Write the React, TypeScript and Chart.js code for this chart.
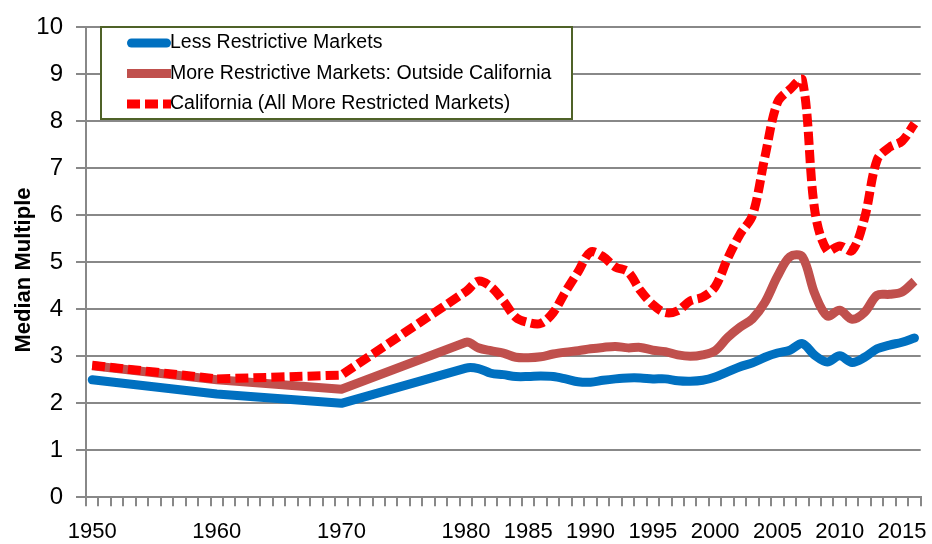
import React, { useEffect, useRef } from 'react';
import { Chart, registerables } from 'chart.js';

Chart.register(...registerables);

// ---- Data ----
const years = [
  1950, 1960, 1970, 1980, 1981, 1982, 1983, 1984, 1985, 1986, 1987, 1988, 1989,
  1990, 1991, 1992, 1993, 1994, 1995, 1996, 1997, 1998, 1999, 2000, 2001, 2002,
  2003, 2004, 2005, 2006, 2007, 2008, 2009, 2010, 2011, 2012, 2013, 2014, 2015, 2016,
];

const lessRestrictive = [
  2.5, 2.2, 2.0, 2.75, 2.74, 2.64, 2.61, 2.57, 2.57, 2.58, 2.57, 2.52, 2.46,
  2.45, 2.49, 2.52, 2.54, 2.54, 2.52, 2.52, 2.48, 2.47, 2.49, 2.56, 2.67, 2.78,
  2.86, 2.98, 3.07, 3.13, 3.27, 3.02, 2.88, 3.01, 2.87, 2.98, 3.16, 3.24, 3.3, 3.39,
];

const moreRestrictiveOutsideCA = [
  2.8, 2.5, 2.3, 3.3, 3.18, 3.12, 3.07, 2.98, 2.97, 2.99, 3.05, 3.09, 3.12,
  3.16, 3.19, 3.21, 3.18, 3.19, 3.13, 3.1, 3.03, 3.0, 3.03, 3.12, 3.4, 3.62,
  3.8, 4.15, 4.7, 5.12, 5.12, 4.33, 3.86, 3.98, 3.79, 3.94, 4.3, 4.32, 4.37, 4.6,
];

const california = [
  2.81, 2.52, 2.6, 4.38, 4.6, 4.48, 4.18, 3.83, 3.72, 3.7, 3.93, 4.38, 4.8,
  5.22, 5.12, 4.9, 4.8, 4.4, 4.1, 3.93, 3.97, 4.18, 4.26, 4.48, 5.08, 5.6,
  6.0, 7.25, 8.4, 8.68, 8.88, 6.1, 5.25, 5.35, 5.25, 5.95, 7.18, 7.45, 7.58, 7.95,
];

const seriesNames = [
  'Less Restrictive Markets',
  'More Restrictive Markets: Outside California',
  'California (All More Restricted Markets)',
];

const xTickLabels = [1950, 1960, 1970, 1980, 1985, 1990, 1995, 2000, 2005, 2010, 2015];
const xFirstYear = 1950;
const xLastYear = 2016;
const yMin = 0;
const yMax = 10;
const yStep = 1;
const yTitle = 'Median Multiple';

const FONT = "'Liberation Sans', Arial, sans-serif";

const BLUE = '#0070C0';
const BROWN = '#C0504D';
const RED = '#FF0000';
const GRID = '#888888';

// Keep multi-year gaps (1950-1960-1970-1980) drawn as straight runs, like the source chart
const straightGapsPlugin = {
  id: 'straightGaps',
  beforeDatasetDraw(chart: any, args: any) {
    const meta = args.meta;
    const line = meta.dataset;
    if (!line || !line.updateControlPoints) return;
    line.updateControlPoints(chart.chartArea, 'x');
    const pts = meta.data;
    for (let i = 0; i < pts.length - 1; i++) {
      if (years[i + 1] - years[i] > 1) {
        pts[i].cp2x = pts[i].x;
        pts[i].cp2y = pts[i].y;
        pts[i + 1].cp1x = pts[i + 1].x;
        pts[i + 1].cp1y = pts[i + 1].y;
      }
    }
    line._path = undefined;
  },
};

const overlayPlugin = {
  id: 'overlayPlugin',
  afterDraw(chart: any) {
    const ctx = chart.ctx as CanvasRenderingContext2D;
    const ds = chart.data.datasets;
    ctx.save();
    // y-axis title
    ctx.fillStyle = '#000';
    ctx.font = `bold 22px ${FONT}`;
    ctx.textAlign = 'center';
    ctx.textBaseline = 'middle';
    ctx.translate(24, 270);
    ctx.rotate(-Math.PI / 2);
    ctx.fillText(yTitle, 0, 0);
    ctx.restore();

    // legend box
    ctx.save();
    const bx = 101, by = 27, bw = 471, bh = 92;
    ctx.fillStyle = '#ffffff';
    ctx.fillRect(bx, by, bw, bh);
    ctx.strokeStyle = '#4F6228';
    ctx.lineWidth = 2;
    ctx.strokeRect(bx, by, bw, bh);
    const rowsY = [43, 73.5, 104];
    ctx.font = `19.5px ${FONT}`;
    ctx.textAlign = 'left';
    ctx.textBaseline = 'middle';
    for (let i = 0; i < ds.length; i++) {
      const d = ds[i];
      const y = rowsY[i];
      ctx.save();
      ctx.strokeStyle = d.borderColor;
      ctx.lineWidth = d.borderWidth;
      ctx.lineCap = d.borderCapStyle || 'butt';
      ctx.setLineDash(d.borderDash || []);
      ctx.beginPath();
      if (ctx.lineCap === 'round') {
        ctx.moveTo(131.5, y);
        ctx.lineTo(166.5, y);
      } else {
        ctx.moveTo(127, y);
        ctx.lineTo(171, y);
      }
      ctx.stroke();
      ctx.restore();
      ctx.fillStyle = '#000';
      ctx.fillText(d.label, 170, y);
    }
    ctx.restore();
  },
};

export default function App() {
  const canvasRef = useRef<HTMLCanvasElement | null>(null);

  useEffect(() => {
    if (!canvasRef.current) return;
    const toPoints = (vals: number[]) => years.map((yr, i) => ({ x: yr, y: vals[i] }));
    const allYearTicks: number[] = [];
    for (let yr = xFirstYear; yr <= xLastYear; yr++) allYearTicks.push(yr);

    const chart = new Chart(canvasRef.current, {
      type: 'line',
      data: {
        datasets: [
          {
            label: seriesNames[0],
            data: toPoints(lessRestrictive),
            borderColor: BLUE,
            backgroundColor: BLUE,
            borderWidth: 9,
            borderCapStyle: 'round',
            borderJoinStyle: 'round',
            order: 2,
          },
          {
            label: seriesNames[1],
            data: toPoints(moreRestrictiveOutsideCA),
            borderColor: BROWN,
            backgroundColor: BROWN,
            borderWidth: 9,
            borderCapStyle: 'butt',
            borderJoinStyle: 'round',
            order: 1,
          },
          {
            label: seriesNames[2],
            data: toPoints(california),
            borderColor: RED,
            backgroundColor: RED,
            borderWidth: 9,
            borderDash: [13, 5],
            borderCapStyle: 'butt',
            borderJoinStyle: 'round',
            order: 0,
          },
        ] as any,
      },
      options: {
        animation: false,
        responsive: false,
        devicePixelRatio: 1,
        layout: { padding: { left: 0, top: 17.5, right: 11.3, bottom: 0 } },
        plugins: { legend: { display: false }, tooltip: { enabled: false } },
        elements: { point: { radius: 0 }, line: { tension: 0.33 } },
        scales: {
          x: {
            type: 'linear',
            min: xFirstYear - 0.5,
            max: xLastYear + 0.5,
            afterBuildTicks: (s: any) => {
              s.ticks = allYearTicks.map((v) => ({ value: v }));
            },
            afterFit: (s: any) => {
              s.height = 46.7;
            },
            grid: {
              offset: true,
              drawOnChartArea: false,
              drawTicks: true,
              tickLength: 9,
              color: GRID,
              lineWidth: 2,
            },
            border: { display: true, color: GRID, width: 2 },
            ticks: {
              autoSkip: false,
              maxRotation: 0,
              minRotation: 0,
              padding: 12,
              color: '#000',
              font: { family: FONT, size: 22 },
              callback: (v: any) => (xTickLabels.includes(Number(v)) ? String(v) : ''),
            },
          },
          y: {
            min: yMin,
            max: yMax,
            afterFit: (s: any) => {
              s.width = 86;
            },
            grid: { color: GRID, lineWidth: 2, tickLength: 10 },
            border: { display: true, color: GRID, width: 2 },
            ticks: {
              stepSize: yStep,
              padding: 13,
              color: '#000',
              font: { family: FONT, size: 24 },
            },
          },
        },
      } as any,
      plugins: [straightGapsPlugin, overlayPlugin],
    });
    return () => chart.destroy();
  }, []);

  return (
    <div style={{ position: 'fixed', left: 0, top: 0, width: 932, height: 544, background: '#fff' }}>
      <canvas ref={canvasRef} width={932} height={544} />
    </div>
  );
}
